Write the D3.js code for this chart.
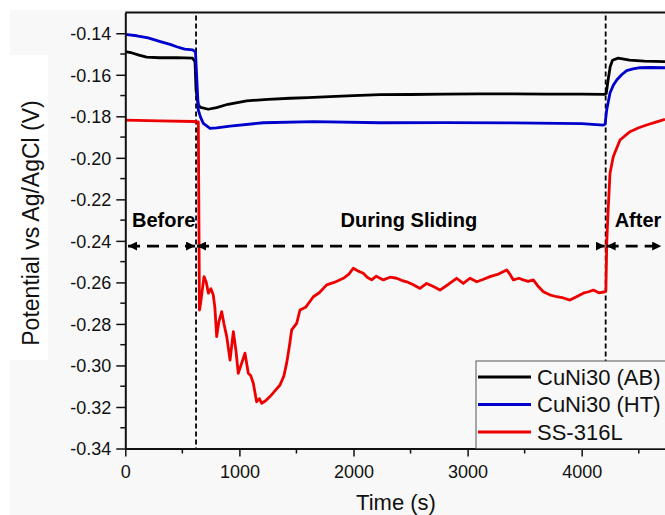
<!DOCTYPE html>
<html>
<head>
<meta charset="utf-8">
<script src="https://cdn.jsdelivr.net/npm/d3@7"></script>
<style>
  html, body { margin: 0; padding: 0; background: #ffffff; }
  svg { display: block; font-family: Arial, "Liberation Sans", sans-serif; }
</style>
</head>
<body>
<svg width="665" height="515"></svg>
<script>
// series names
const seriesNames = ["CuNi30 (AB)", "CuNi30 (HT)", "SS-316L"];
const seriesColors = ["#000000", "#0000cc", "#ee0000"];

// CuNi30 (AB)
const abTime = [0, 60, 120, 187, 300, 450, 590, 611, 620, 640, 660, 727, 800, 900, 1064, 1250, 1443, 1600, 1794, 2000, 2232, 2500, 2800, 3100, 3400, 3700, 4000, 4200, 4215, 4230, 4250, 4270, 4320, 4420, 4550, 4730];
const abValue = [-0.1489, -0.1495, -0.1505, -0.1515, -0.1518, -0.1517, -0.1520, -0.1537, -0.1673, -0.1745, -0.1757, -0.1766, -0.1758, -0.1742, -0.1726, -0.1718, -0.1713, -0.1710, -0.1705, -0.1700, -0.1696, -0.1695, -0.1693, -0.1692, -0.1692, -0.1693, -0.1693, -0.1694, -0.1690, -0.1630, -0.1560, -0.1530, -0.1520, -0.1529, -0.1534, -0.1537];

// CuNi30 (HT)
const htTime = [0, 100, 200, 300, 400, 450, 520, 590, 615, 625, 640, 660, 684, 742, 800, 918, 1210, 1648, 2232, 2800, 3400, 4000, 4190, 4205, 4219, 4248, 4277, 4307, 4350, 4394, 4450, 4511, 4600, 4730];
const htValue = [-0.1405, -0.1412, -0.1422, -0.1439, -0.1455, -0.1465, -0.1476, -0.1480, -0.1490, -0.1600, -0.1770, -0.1805, -0.1834, -0.1858, -0.1856, -0.1847, -0.1831, -0.1826, -0.1831, -0.1830, -0.1832, -0.1835, -0.1842, -0.1838, -0.1770, -0.1688, -0.1650, -0.1625, -0.1600, -0.1580, -0.1572, -0.1566, -0.1565, -0.1566];

// SS-316L
const ssTime = [0, 300, 600, 630, 640, 650, 660, 690, 710, 728, 750, 771, 785, 801, 820, 845, 865, 889, 918, 947, 970, 990, 1020, 1049, 1078, 1100, 1122, 1151, 1175, 1195, 1230, 1268, 1300, 1356, 1390, 1414, 1440, 1458, 1502, 1531, 1580, 1648, 1700, 1765, 1830, 1911, 1960, 1998, 2040, 2086, 2120, 2159, 2200, 2261, 2320, 2378, 2420, 2466, 2520, 2583, 2641, 2700, 2758, 2830, 2904, 2962, 3021, 3080, 3140, 3196, 3270, 3343, 3370, 3401, 3450, 3488, 3530, 3576, 3620, 3664, 3720, 3781, 3840, 3897, 3950, 4014, 4060, 4102, 4150, 4204, 4212, 4220, 4232, 4248, 4277, 4336, 4423, 4500, 4569, 4650, 4730];
const ssValue = [-0.1818, -0.1822, -0.1825, -0.1827, -0.1827, -0.2733, -0.2700, -0.2572, -0.2600, -0.2652, -0.2630, -0.2661, -0.2720, -0.2861, -0.2790, -0.2741, -0.2800, -0.2861, -0.2974, -0.2837, -0.2930, -0.3038, -0.2989, -0.2941, -0.3038, -0.3050, -0.3086, -0.3175, -0.3160, -0.3182, -0.3170, -0.3150, -0.3130, -0.3094, -0.3050, -0.2989, -0.2900, -0.2829, -0.2797, -0.2733, -0.2720, -0.2669, -0.2650, -0.2612, -0.2600, -0.2580, -0.2560, -0.2532, -0.2545, -0.2556, -0.2575, -0.2588, -0.2570, -0.2588, -0.2575, -0.2580, -0.2590, -0.2597, -0.2610, -0.2629, -0.2605, -0.2620, -0.2637, -0.2610, -0.2580, -0.2605, -0.2580, -0.2597, -0.2585, -0.2572, -0.2560, -0.2540, -0.2560, -0.2588, -0.2580, -0.2588, -0.2595, -0.2588, -0.2620, -0.2645, -0.2660, -0.2669, -0.2675, -0.2685, -0.2670, -0.2652, -0.2645, -0.2637, -0.2650, -0.2645, -0.2640, -0.2400, -0.2250, -0.2074, -0.1994, -0.1914, -0.1874, -0.1855, -0.1842, -0.1828, -0.1814];

// phases of the test
const phaseLabels = ["Before", "During Sliding", "After"];
const phaseBounds = [24, 620, 4210, 4705];
const arrowLevel = -0.2425;

// axis ticks
const xTicks = [0, 1000, 2000, 3000, 4000];
const yTicks = [-0.34, -0.32, -0.30, -0.28, -0.26, -0.24, -0.22, -0.20, -0.18, -0.16, -0.14];

const svg = d3.select("svg");

// background pieces
svg.append("rect").attr("x", 10).attr("y", 10).attr("width", 655).attr("height", 505).attr("fill", "#f8f8f8");
svg.append("rect").attr("x", 10).attr("y", 55).attr("width", 38).attr("height", 305).attr("fill", "#ffffff");

const x = d3.scaleLinear().domain([0, 5000]).range([125.3, 125.3 + 570.5]);
const y = d3.scaleLinear().domain([-0.34, -0.13]).range([448.5, 12.5]);

svg.append("defs").append("clipPath").attr("id", "plot")
  .append("rect").attr("x", x(0)).attr("y", y(-0.13)).attr("width", x(5000) - x(0)).attr("height", y(-0.34) - y(-0.13));

// arrow markers
const defs = svg.select("defs");
defs.append("marker").attr("id", "ah").attr("viewBox", "0 0 10 10").attr("refX", 10).attr("refY", 5)
  .attr("markerWidth", 3.2).attr("markerHeight", 3.2).attr("orient", "auto-start-reverse")
  .append("path").attr("d", "M0,0 L10,5 L0,10 z").attr("fill", "#000");

const plot = svg.append("g").attr("clip-path", "url(#plot)");

// phase boundaries
plot.selectAll(".vline").data([phaseBounds[1], phaseBounds[2]]).enter().append("line")
  .attr("x1", d => x(d)).attr("x2", d => x(d))
  .attr("y1", y(-0.1315)).attr("y2", y(-0.34))
  .attr("stroke", "#000").attr("stroke-width", 1.8).attr("stroke-dasharray", "5,3");

// lines
const series = [
  { t: abTime, v: abValue },
  { t: htTime, v: htValue },
  { t: ssTime, v: ssValue }
];
const line = d3.line().x(d => x(d[0])).y(d => y(d[1]));
series.forEach((s, i) => {
  plot.append("path")
    .datum(d3.zip(s.t, s.v))
    .attr("d", line)
    .attr("fill", "none")
    .attr("stroke", seriesColors[i])
    .attr("stroke-width", 2.8)
    .attr("stroke-linejoin", "round");
});

// phase arrows
for (let i = 0; i < 3; i++) {
  svg.append("line")
    .attr("x1", x(phaseBounds[i]) + (i ? 1 : 0)).attr("x2", x(phaseBounds[i + 1]) - 1)
    .attr("y1", y(arrowLevel)).attr("y2", y(arrowLevel))
    .attr("stroke", "#000").attr("stroke-width", 2.8).attr("stroke-dasharray", "12,7")
    .attr("marker-start", "url(#ah)").attr("marker-end", "url(#ah)");
}
svg.append("text").attr("x", x(phaseBounds[0]) + 4).attr("y", 227)
  .attr("font-size", 20).attr("font-weight", "bold").text(phaseLabels[0]);
svg.append("text").attr("x", x(2486)).attr("y", 227).attr("text-anchor", "middle")
  .attr("font-size", 20).attr("font-weight", "bold").text(phaseLabels[1]);
svg.append("text").attr("x", x(phaseBounds[2]) + 9).attr("y", 227)
  .attr("font-size", 20).attr("font-weight", "bold").text(phaseLabels[2]);

// axes
const xAxis = svg.append("g").attr("transform", `translate(0,${y(-0.34)})`)
  .call(d3.axisBottom(x).tickValues(xTicks).tickFormat(d3.format("d")).tickSize(8).tickSizeOuter(0));
xAxis.append("g").selectAll("line").data(d3.range(500, 5000, 1000)).enter().append("line")
  .attr("x1", d => x(d)).attr("x2", d => x(d)).attr("y1", 0).attr("y2", 5).attr("stroke", "#111").attr("stroke-width", 1.5);

const yAxis = svg.append("g").attr("transform", `translate(${x(0)},0)`)
  .call(d3.axisLeft(y).tickValues(yTicks).tickFormat(d3.format(".2f")).tickSize(9).tickSizeOuter(0));
yAxis.append("g").selectAll("line").data(d3.range(-0.33, -0.13, 0.02)).enter().append("line")
  .attr("x1", 0).attr("x2", -5).attr("y1", d => y(d)).attr("y2", d => y(d)).attr("stroke", "#111").attr("stroke-width", 1.5);

[xAxis, yAxis].forEach(g => {
  g.select(".domain").attr("stroke", "#111").attr("stroke-width", 2);
  g.selectAll(".tick line").attr("stroke", "#111").attr("stroke-width", 1.5);
  g.selectAll(".tick text").attr("fill", "#111").attr("font-size", 18)
    .attr("font-family", "Arial, 'Liberation Sans', sans-serif");
});
xAxis.selectAll(".tick text").attr("dy", null).attr("y", 29);
yAxis.selectAll(".tick text").attr("x", -14).attr("dy", "0.35em").text(d => d3.format(".2f")(d).replace("−", "-"));
xAxis.selectAll(".tick text").text(d => d);

// top frame
svg.append("line").attr("x1", x(0)).attr("x2", 665).attr("y1", y(-0.13)).attr("y2", y(-0.13))
  .attr("stroke", "#111").attr("stroke-width", 2);

// axis titles
svg.append("text").attr("x", 396).attr("y", 510).attr("text-anchor", "middle")
  .attr("font-size", 22).attr("fill", "#111").text("Time (s)");
svg.append("text").attr("transform", "translate(38.5,223) rotate(-90)").attr("text-anchor", "middle")
  .attr("font-size", 23).attr("fill", "#111").text("Potential vs Ag/AgCl (V)");

// legend
const lg = svg.append("g");
lg.append("rect").attr("x", 476).attr("y", 361).attr("width", 200).attr("height", y(-0.34) - 361)
  .attr("fill", "#f8f8f8").attr("stroke", "#555").attr("stroke-width", 1);
seriesNames.forEach((name, i) => {
  const cy = 377 + i * 27.5;
  lg.append("line").attr("x1", 478).attr("x2", 531).attr("y1", cy).attr("y2", cy)
    .attr("stroke", seriesColors[i]).attr("stroke-width", 3);
  lg.append("text").attr("x", 537).attr("y", cy + 7.5).attr("font-size", 22).attr("fill", "#111").text(name);
});
</script>
</body>
</html>
